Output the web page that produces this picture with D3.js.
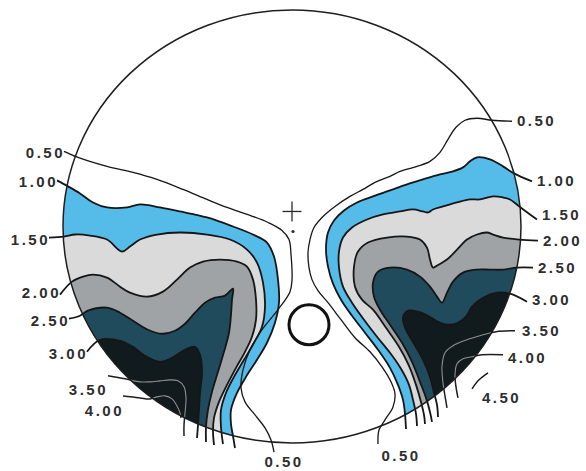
<!DOCTYPE html>
<html>
<head>
<meta charset="utf-8">
<script src="https://cdn.jsdelivr.net/npm/d3@7/dist/d3.min.js"></script>
<style>
  body { margin: 0; background: #fff; }
  svg { display: block; }
  .lbl {
    font-family: "Liberation Sans", Arial, sans-serif;
    font-weight: bold;
    font-size: 15px;
    letter-spacing: 2.5px;
    fill: #2e2e2e;
  }
</style>
</head>
<body>
<div id="chart"></div>
<script>
// Map units: x to the right, y up, origin at the centre of the field
var fieldX = [-229, 229];
var fieldY = [-216, 216];

// filled bands: region >= level
var bandLevels = [1.0, 1.5, 2.0, 2.5, 3.0];
var bandColors = ['#55bbe9', '#dadadb', '#a0a3a6', '#1f4b5d', '#111a1c'];

// contour lines, left lobe (first point = label end, last point = bottom tick)
var left05 = [[-228,75],[-214,69],[-185,60],[-159,54],[-135,47],[-109,37],[-85,27],[-65,19],[-42,11],[-24,4],[-10,-4],[-3,-13],[-1,-28],[0,-53],[-2,-65],[-14,-83],[-30,-103],[-42,-123],[-49,-143],[-51,-161],[-47,-175],[-37,-188],[-27,-201],[-21,-213],[-18,-225]];
var left10 = [[-235,46],[-224,40],[-212,33],[-199,24],[-185,19],[-165,19],[-152,22],[-132,19],[-112,15],[-85,9],[-59,0],[-39,-8],[-25,-16],[-18,-30],[-14,-53],[-13,-76],[-17,-96],[-25,-116],[-35,-133],[-46,-150],[-55,-166],[-61,-183],[-61,-197],[-59,-209],[-57,-221]];
var left15 = [[-243,-11],[-228,-10],[-217,-8],[-202,-9],[-185,-13],[-170,-25],[-162,-20],[-152,-13],[-135,-8],[-112,-6],[-85,-8],[-62,-13],[-45,-23],[-35,-36],[-29,-56],[-27,-80],[-30,-100],[-38,-116],[-48,-133],[-58,-150],[-66,-166],[-71,-183],[-71,-200],[-69,-217]];
var left20 = [[-232,-68],[-220,-55],[-209,-50],[-199,-48],[-185,-51],[-172,-60],[-162,-66],[-145,-70],[-129,-65],[-115,-53],[-102,-41],[-89,-35],[-72,-33],[-55,-35],[-45,-40],[-39,-53],[-36,-73],[-36,-93],[-40,-110],[-47,-125],[-56,-141],[-65,-158],[-73,-175],[-78,-191],[-79,-204],[-78,-218]];
var left25 = [[-223,-92],[-212,-89],[-204,-84],[-185,-81],[-172,-86],[-159,-94],[-144,-103],[-130,-107],[-117,-104],[-107,-97],[-97,-86],[-87,-76],[-77,-71],[-67,-69],[-59,-62],[-60,-73],[-61,-88],[-63,-106],[-68,-125],[-74,-145],[-80,-165],[-84,-183],[-86,-200],[-86,-215]];
var left30 = [[-205,-125],[-192,-113],[-172,-114],[-159,-120],[-147,-129],[-132,-135],[-120,-131],[-107,-123],[-97,-120],[-92,-128],[-90,-146],[-92,-166],[-93,-183],[-94,-198],[-95,-211]];
var left35 = [[-184,-149],[-167,-152],[-152,-155],[-142,-155],[-132,-154],[-122,-153],[-114,-154],[-108,-160],[-106,-171],[-107,-186],[-108,-198],[-108,-209]];
var left40 = [[-169,-169],[-152,-171],[-142,-172],[-135,-170],[-127,-169],[-120,-172],[-115,-179],[-112,-186],[-111,-191]];

// contour lines, right lobe
var right05 = [[220,105],[200,106],[185,108],[173,106],[164,99],[156,87],[148,74],[138,65],[125,60],[108,55],[98,50],[83,44],[71,37],[58,30],[43,20],[31,10],[22,-1],[18,-13],[16,-26],[17,-41],[20,-53],[26,-64],[36,-76],[49,-93],[63,-111],[78,-125],[90,-140],[99,-155],[103,-167],[101,-180],[93,-193],[87,-203],[86,-217]];
var right10 = [[240,45],[222,53],[211,60],[198,67],[185,69],[178,65],[171,59],[161,55],[148,52],[131,47],[115,42],[98,36],[81,30],[65,24],[52,16],[42,6],[36,-6],[34,-23],[36,-40],[41,-57],[49,-73],[60,-89],[73,-106],[86,-123],[98,-141],[106,-158],[111,-173],[113,-187],[114,-202]];
var right15 = [[245,7],[234,15],[226,21],[218,27],[211,29],[201,30],[188,27],[178,27],[165,24],[151,20],[141,17],[136,14],[131,15],[121,17],[108,15],[91,12],[75,7],[60,-1],[51,-11],[47,-25],[47,-41],[51,-60],[60,-76],[72,-93],[85,-110],[98,-126],[109,-142],[117,-158],[121,-173],[124,-187],[125,-199]];
var right20 = [[246,-14],[227,-13],[211,-11],[201,-8],[195,-6],[185,-8],[175,-13],[165,-23],[155,-33],[145,-39],[141,-41],[138,-33],[135,-21],[128,-13],[115,-10],[95,-11],[76,-16],[66,-25],[62,-40],[63,-60],[70,-73],[81,-83],[94,-101],[107,-120],[117,-139],[124,-158],[129,-175],[132,-188],[133,-197]];
var right25 = [[241,-41],[225,-41],[211,-43],[198,-43],[185,-43],[171,-46],[161,-55],[155,-66],[150,-76],[145,-70],[138,-60],[128,-50],[115,-43],[98,-41],[86,-45],[81,-56],[82,-70],[88,-83],[98,-98],[110,-116],[120,-135],[128,-155],[134,-171],[138,-185],[140,-195]];
var right30 = [[235,-75],[218,-67],[205,-66],[191,-71],[180,-80],[174,-90],[166,-96],[156,-98],[146,-95],[136,-89],[126,-85],[116,-84],[111,-91],[114,-103],[122,-117],[131,-133],[138,-150],[142,-166],[145,-178],[146,-190]];
var right35 = [[223,-104],[204,-105],[188,-109],[175,-113],[161,-119],[153,-126],[150,-140],[151,-156],[153,-169],[155,-181]];
var right40 = [[211,-128],[190,-128],[180,-130],[171,-132],[165,-137],[163,-148],[164,-160],[166,-171]];
var right45 = [[180,-162],[187,-153],[196,-146]];

var contours = [
  {id: 'L0.5', level: 0.5, side: 'L', pts: left05},
  {id: 'L1.0', level: 1.0, side: 'L', pts: left10},
  {id: 'L1.5', level: 1.5, side: 'L', pts: left15},
  {id: 'L2.0', level: 2.0, side: 'L', pts: left20},
  {id: 'L2.5', level: 2.5, side: 'L', pts: left25},
  {id: 'L3.0', level: 3.0, side: 'L', pts: left30},
  {id: 'L3.5', level: 3.5, side: 'L', pts: left35},
  {id: 'L4.0', level: 4.0, side: 'L', pts: left40},
  {id: 'R0.5', level: 0.5, side: 'R', pts: right05},
  {id: 'R1.0', level: 1.0, side: 'R', pts: right10},
  {id: 'R1.5', level: 1.5, side: 'R', pts: right15},
  {id: 'R2.0', level: 2.0, side: 'R', pts: right20},
  {id: 'R2.5', level: 2.5, side: 'R', pts: right25},
  {id: 'R3.0', level: 3.0, side: 'R', pts: right30},
  {id: 'R3.5', level: 3.5, side: 'R', pts: right35},
  {id: 'R4.0', level: 4.0, side: 'R', pts: right40},
  {id: 'R4.5', level: 4.5, side: 'R', pts: right45}
];

// fixation cross, dot below it, blind spot ring
var fixation = [0, 15];
var fixationDot = [1, -5];
var blindSpot = [17, -98];

var W = 586, H = 471;
var x = d3.scaleLinear().domain(fieldX).range([63, 521]);
var y = d3.scaleLinear().domain(fieldY).range([443, 10]);

var svg = d3.select('#chart').append('svg')
  .attr('width', W)
  .attr('height', H);

var cx = x(0), cy = y(0);
var rx = x(fieldX[1]) - cx, ry = cy - y(fieldY[1]);
var ellipsePath = 'M' + (cx - rx) + ',' + cy +
  'a' + rx + ',' + ry + ' 0 1,0 ' + (2 * rx) + ',0' +
  'a' + rx + ',' + ry + ' 0 1,0 ' + (-2 * rx) + ',0Z';

var defs = svg.append('defs');
defs.append('clipPath').attr('id', 'inside')
  .append('path').attr('d', ellipsePath);
defs.append('clipPath').attr('id', 'outside')
  .append('path')
  .attr('clip-rule', 'evenodd')
  .attr('d', 'M-10,-10H' + (W + 10) + 'V' + (H + 10) + 'H-10Z' + ellipsePath);

var line = d3.line()
  .x(function (d) { return x(d[0]); })
  .y(function (d) { return y(d[1]); })
  .curve(d3.curveCatmullRom.alpha(0.5));

// Bands, lowest level first
var bands = svg.append('g').attr('clip-path', 'url(#inside)');
bandLevels.forEach(function (lev, i) {
  contours.filter(function (c) { return c.level === lev; }).forEach(function (c) {
    var corner = c.side === 'L' ? [-400, -400] : [400, -400];
    bands.append('path')
      .attr('d', line(c.pts) + 'L' + x(corner[0]) + ',' + y(corner[1]) + 'Z')
      .attr('fill', bandColors[i]);
  });
});

// Contour lines
var lines = svg.append('g').attr('fill', 'none').attr('stroke-linejoin', 'round');
contours.forEach(function (c) {
  if (c.level >= 3.5 && c.level < 4.5) {
    lines.append('path').attr('d', line(c.pts))
      .attr('clip-path', 'url(#inside)')
      .attr('stroke', '#8c8f90').attr('stroke-width', 1.1);
    lines.append('path').attr('d', line(c.pts))
      .attr('clip-path', 'url(#outside)')
      .attr('stroke', '#1e1e1e').attr('stroke-width', 1.5);
  } else {
    lines.append('path').attr('d', line(c.pts))
      .attr('stroke', '#161616')
      .attr('stroke-width', c.level === 0.5 ? 1.3 : (c.level === 4.5 ? 1.4 : 1.8));
  }
});

// Field boundary
svg.append('path')
  .attr('d', ellipsePath)
  .attr('fill', 'none')
  .attr('stroke', '#1e1e1e')
  .attr('stroke-width', 1.5);

// Labels: placed next to the leader end of each contour
var labelNudge = {
  'L2.0': [0, -4], 'L3.5': [-1, 12], 'L4.0': [0, 13],
  'R1.5': [0, -4], 'R3.0': [0, -2], 'R3.5': [2, 0], 'R4.0': [0, 3], 'R4.5': [5, 9]
};
var labels = svg.append('g');
contours.forEach(function (c) {
  var p = c.pts[0];
  var n = labelNudge[c.id] || [0, 0];
  labels.append('text')
    .attr('class', 'lbl')
    .attr('x', x(p[0]) + (c.side === 'L' ? 1 : 5) + n[0])
    .attr('y', y(p[1]) + (c.side === 'L' ? 7 : 5) + n[1])
    .attr('text-anchor', c.side === 'L' ? 'end' : 'start')
    .text(c.level.toFixed(2));
  if (c.level === 0.5) {
    var q = c.pts[c.pts.length - 1];
    labels.append('text')
      .attr('class', 'lbl')
      .attr('x', x(q[0]) + (c.side === 'L' ? 10 : 23))
      .attr('y', y(q[1]) + (c.side === 'L' ? 15 : 17))
      .attr('text-anchor', 'middle')
      .text(c.level.toFixed(2));
  }
});

// Fixation mark and blind spot
var marks = svg.append('g').attr('stroke', '#2a2a2a').attr('fill', 'none');
marks.append('line')
  .attr('x1', x(fixation[0] - 9.5)).attr('x2', x(fixation[0] + 9.5))
  .attr('y1', y(fixation[1])).attr('y2', y(fixation[1]))
  .attr('stroke-width', 1.3);
marks.append('line')
  .attr('x1', x(fixation[0])).attr('x2', x(fixation[0]))
  .attr('y1', y(fixation[1] + 10)).attr('y2', y(fixation[1] - 10))
  .attr('stroke-width', 1.3);
svg.append('circle')
  .attr('cx', x(fixationDot[0])).attr('cy', y(fixationDot[1]))
  .attr('r', 1.6).attr('fill', '#2a2a2a');
marks.append('circle')
  .attr('cx', x(blindSpot[0])).attr('cy', y(blindSpot[1]))
  .attr('r', x(20) - x(0))
  .attr('stroke', '#111').attr('stroke-width', 3);
</script>
</body>
</html>
